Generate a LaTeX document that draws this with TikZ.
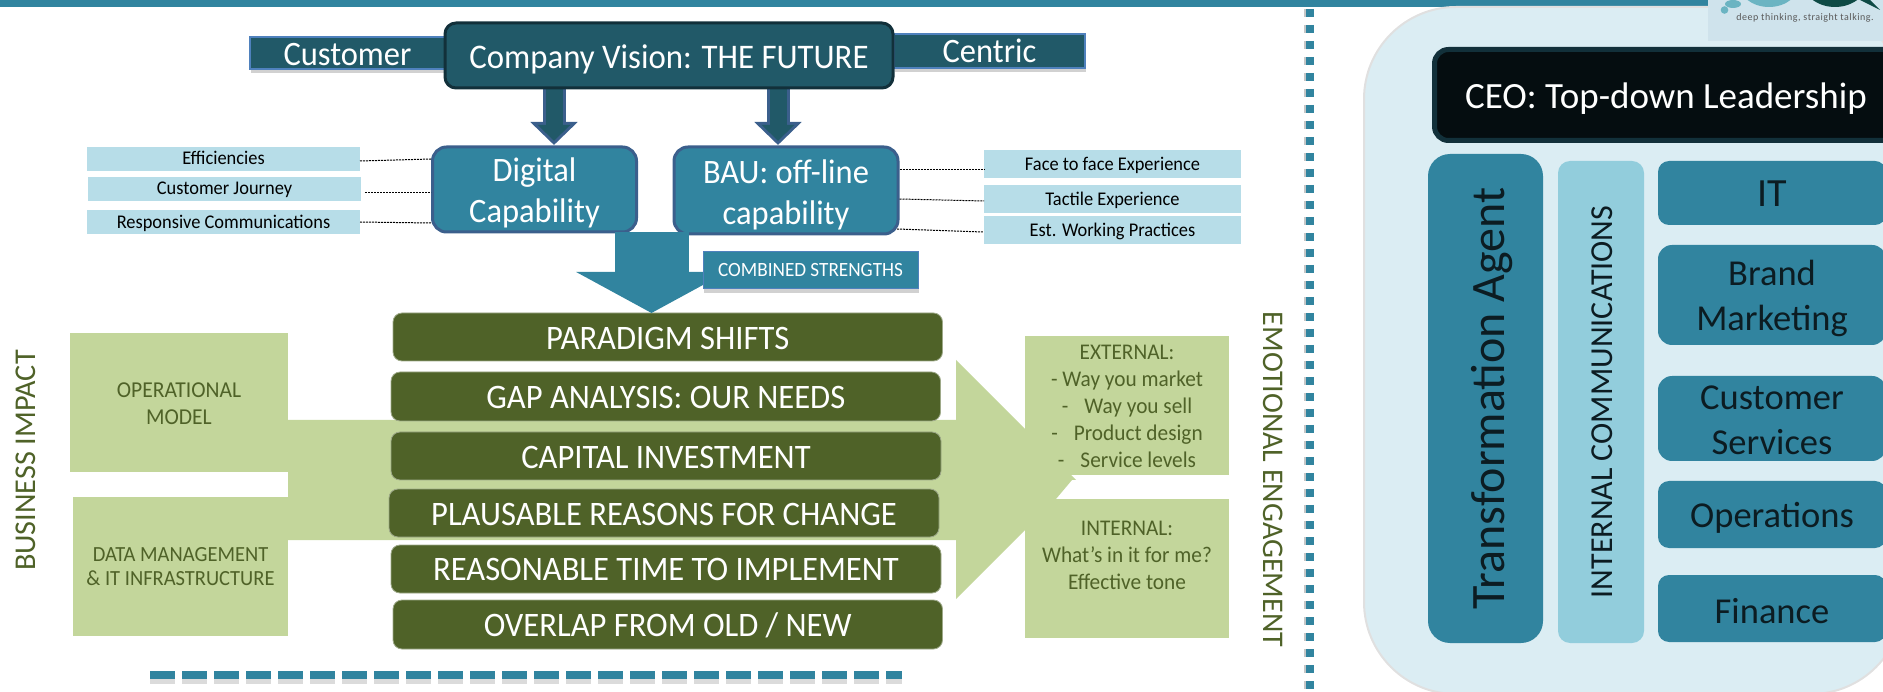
\documentclass[tikz,border=0pt]{standalone}
\usepackage{fontspec}
\setmainfont{Carlito}
\newfontfamily\tallface{Carlito}[FakeStretch=0.95]
\usetikzlibrary{arrows.meta,shadows,calc}
\definecolor{teal}{HTML}{31849F}
\definecolor{deepteal}{HTML}{215968}
\definecolor{darkedge}{HTML}{12303A}
\definecolor{blueedge}{HTML}{3B5F8C}
\definecolor{lineblue}{HTML}{4F81BD}
\definecolor{pale}{HTML}{B7DDE8}
\definecolor{panel}{HTML}{DBEDF3}
\definecolor{midblue}{HTML}{92CDDC}
\definecolor{olive}{HTML}{4F6228}
\definecolor{sage}{HTML}{C3D69B}
\definecolor{ink}{HTML}{0C1C22}
\definecolor{logoback}{HTML}{CFE3EC}
\definecolor{logolight}{HTML}{6BB4C2}
\definecolor{logodark}{HTML}{0E4A45}
% plain size
\newcommand{\fsz}[2]{\fontsize{#1}{#2}\selectfont}
% taller, narrower face for the left part of the slide
\newcommand{\ftl}[2]{\tallface\pgfmathsetmacro{\tallsize}{#1*1.0526}\fontsize{\tallsize}{#2}\selectfont}
% centred lines, moved down from the centre of their box by #1
\newcommand{\dn}[2]{\raisebox{\dimexpr-#1-.28em\relax}[0pt][0pt]{\begin{tabular}{@{}c@{}}#2\end{tabular}}}
\tikzset{
  softshadow/.style={general shadow={fill=black,opacity=.18,shadow xshift=1pt,shadow yshift=-4pt}},
  base/.style={inner sep=0pt,outer sep=0pt,align=center,text=white},
  sidetab/.style={base,fill=deepteal,draw=lineblue,line width=1.2pt,softshadow,font=\ftl{32.5}{40}},
  vision/.style={base,fill=deepteal,draw=darkedge,line width=3pt,rounded corners=11pt,font=\ftl{32.8}{40}},
  capab/.style={base,fill=teal,draw=blueedge,line width=3pt,rounded corners=14pt,font=\ftl{32.5}{41}},
  palebox/.style={base,fill=pale,text=black,font=\ftl{18.4}{22}},
  link/.style={draw=black,line width=1pt,dash pattern=on 2pt off 1pt},
  rowbox/.style={base,fill=olive,draw=olive!55!white,line width=.8pt,rounded corners=9pt,font=\ftl{32.6}{40}},
  sagebox/.style={base,fill=sage,text=olive},
  sidelabel/.style={base,text=olive},
  agentbox/.style={base,fill=teal,text=ink,rounded corners=#1},
  blockout/.style={line width=23pt,draw=blueedge,-{Triangle[length=23pt,width=46pt]}},
  blockin/.style={line width=17pt,draw=deepteal,-{Triangle[length=16pt,width=32pt]}},
  bigblock/.style={line width=74pt,draw=teal,-{Triangle[length=41pt,width=149pt]}},
  dashbar/.style={draw=teal,line width=8pt},
}
\begin{document}
\begin{tikzpicture}[x=1pt,y=-1pt]
\useasboundingbox (0,0) rectangle (1883,692);
% top bar
\fill[teal] (0,0) rectangle (1708,7);

% right panel
\node[base,minimum width=539pt,minimum height=687pt,fill=panel,draw=black!12,line width=2pt,rounded corners=92pt] (panelbox) at (1633.5,350.5) {};

% logo
\fill[logoback] (1708,0) rectangle (1883,41);
\begin{scope}
\clip (1708,0) rectangle (1883,41);
\fill[logolight] (1769,-18) ellipse (31pt and 25pt);
\fill[logodark] (1835,-20) ellipse (33pt and 27pt);
\fill[logodark] (1860,0) -- (1880,10) -- (1866,-4) -- cycle;
\fill[logolight] (1733,4) ellipse (8pt and 4pt);
\fill[logolight] (1724.5,10) circle (3.8pt);
\end{scope}
\node[base,text=black!65,font=\fsz{10}{12}\addfontfeatures{LetterSpace=5}] (tagline) at (1805,17.5) {deep thinking, straight talking.};

% dashed separators
\coordinate (vtop) at (1309.5,9);
\coordinate (vbot) at (1309.5,692);
\coordinate (hleft) at (150,675);
\coordinate (hright) at (902,675);
\draw[draw=black!22,line width=8pt,dash pattern=on 8pt off 8pt] ([xshift=-1.8pt]vtop) -- ([xshift=-1.8pt]vbot);
\draw[dashbar,dash pattern=on 8pt off 8pt] (vtop) -- (vbot);
\draw[draw=black!14,line width=8pt,dash pattern=on 25pt off 7pt] ([yshift=-5pt]hleft) -- ([yshift=-5pt]hright);
\draw[dashbar,dash pattern=on 25pt off 7pt] (hleft) -- (hright);

% vision row
\node[sidetab,minimum width=195pt,minimum height=32pt] (customer) at (347.5,53) {\dn{1pt}{Customer}};
\node[sidetab,minimum width=191pt,minimum height=34pt] (centric) at (989.5,51) {\dn{0pt}{Centric}};
\coordinate (a1) at (554,89);
\coordinate (a2) at (778,89);
\coordinate (a1t) at (554,145);
\coordinate (a2t) at (778,145);
\draw[blockout] (a1) -- (a1t);
\draw[blockin] (a1) -- ([yshift=4.2pt]a1t);
\draw[blockout] (a2) -- (a2t);
\draw[blockin] (a2) -- ([yshift=4.2pt]a2t);
\node[vision,minimum width=448pt,minimum height=65pt] (visionbox) at (669,55.5) {\dn{2pt}{Company Vision: THE FUTURE}};

% capability boxes
\node[capab,minimum width=204pt,minimum height=85pt] (digital) at (534.5,189.5) {\dn{1pt}{Digital\\Capability}};
\node[capab,minimum width=224pt,minimum height=87pt] (bau) at (786,190.5) {\dn{1.5pt}{BAU: off-line\\capability}};

% pale labels
\node[palebox,minimum width=273pt,minimum height=24pt] (eff) at (223.5,159) {\dn{1pt}{Efficiencies}};
\node[palebox,minimum width=273pt,minimum height=24pt] (journey) at (224.5,189) {\dn{1pt}{Customer Journey}};
\node[palebox,minimum width=273pt,minimum height=24pt] (resp) at (223.5,222) {\dn{2pt}{Responsive Communications}};
\node[palebox,minimum width=257pt,minimum height=28pt] (face) at (1112.5,164) {\dn{1.5pt}{Face to face Experience}};
\node[palebox,minimum width=257pt,minimum height=28pt] (tactile) at (1112.5,199) {\dn{1.5pt}{Tactile Experience}};
\node[palebox,minimum width=257pt,minimum height=28pt] (est) at (1112.5,230) {\dn{1.5pt}{Est. Working Practices}};

\draw[link] ([yshift=-2pt]eff.east) -- ([xshift=-1.5pt,yshift=30.5pt]digital.west);
\draw[link] ([xshift=4pt,yshift=-4pt]journey.east) -- ([xshift=-1.5pt,yshift=-3.5pt]digital.west);
\draw[link] (resp.east) -- ([xshift=-1.5pt,yshift=-33.5pt]digital.west);
\draw[link] ([xshift=1.5pt,yshift=20.5pt]bau.east) -- ([yshift=-6pt]face.west);
\draw[link] ([xshift=1.5pt,yshift=-8.5pt]bau.east) -- ([yshift=-2pt]tactile.west);
\draw[link] ([xshift=-1pt,yshift=-38.5pt]bau.east) -- ([xshift=-1pt,yshift=-2pt]est.west);

% big green panels and arrow
\node[sagebox,minimum width=218pt,minimum height=139pt,font=\ftl{21.6}{27}] (opmodel) at (179,402.5) {\dn{1.5pt}{OPERATIONAL\\MODEL}};
\node[sagebox,minimum width=215pt,minimum height=139pt,font=\ftl{20.5}{24}] (datamgmt) at (180.5,566.5) {\dn{1.5pt}{DATA MANAGEMENT\\\& IT INFRASTRUCTURE}};
\fill[sage] (288,420) -- (956,420) -- (956,360) -- (1076,480) -- (1072,480) -- (1056,499) -- (1025,530) -- (956,599) -- (956,540) -- (288,540) -- cycle;
\node[sagebox,minimum width=204pt,minimum height=139pt,font=\ftl{21.3}{27}] (external) at (1127,405.5) {\dn{1.5pt}{EXTERNAL:\\- Way you market\\-\hspace{16pt}Way you sell\\-\hspace{16pt}Product design\\-\hspace{16pt}Service levels}};
\node[sagebox,minimum width=204pt,minimum height=139pt,font=\ftl{21.3}{27}] (internal) at (1127,568.5) {\dn{-12pt}{INTERNAL:\\What’s in it for me?\\Effective tone}};

% rows
\node[rowbox,minimum width=549.5pt,minimum height=48pt] (paradigm) at (667.75,337) {\dn{1pt}{PARADIGM SHIFTS}};
\node[rowbox,minimum width=549.5pt,minimum height=49pt] (gap) at (665.8,396.5) {\dn{.5pt}{GAP ANALYSIS: OUR NEEDS}};
\node[rowbox,minimum width=550pt,minimum height=48pt] (capital) at (666,456) {\dn{1pt}{CAPITAL INVESTMENT}};
\node[rowbox,minimum width=550pt,minimum height=48pt] (plausible) at (664,513) {\dn{1pt}{PLAUSABLE REASONS FOR CHANGE}};
\node[rowbox,minimum width=550pt,minimum height=48pt] (reasonable) at (666,569) {\dn{0pt}{REASONABLE TIME TO IMPLEMENT}};
\node[rowbox,minimum width=549.5pt,minimum height=49pt] (overlap) at (667.75,624.5) {\dn{.5pt}{OVERLAP FROM OLD / NEW}};

% big arrow
\coordinate (bigs) at (651.5,232);
\draw[bigblock] (bigs) -- (bigs |- paradigm.north);
\node[base,fill=teal,draw=lineblue,line width=1pt,softshadow,minimum width=215pt,minimum height=37pt,font=\ftl{19.2}{23}] (combined) at (810.5,270.5) {\dn{.5pt}{COMBINED STRENGTHS}};

% side labels
\node[sidelabel,rotate=90,font=\fsz{30.2}{32}] (bizimpact) at (26,460.5) {BUSINESS IMPACT};
\node[sidelabel,rotate=-90,font=\fsz{30}{32}] (emotional) at (1273,479.5) {EMOTIONAL ENGAGEMENT};

% org panel
\node[base,fill=black!90!teal,draw=darkedge,line width=5pt,rounded corners=14pt,minimum width=463pt,minimum height=91pt,font=\fsz{37}{44}] (ceo) at (1666,95) {\dn{1pt}{CEO: Top-down Leadership}};
\node[agentbox=22pt,rotate=90,minimum width=489pt,minimum height=115pt,font=\fsz{48}{50}] (agent) at (1485.5,398.5) {\dn{1.5pt}{Transformation Agent}};
\node[agentbox=12pt,fill=midblue,rotate=90,minimum width=482pt,minimum height=86pt,font=\fsz{32}{38}] (comms) at (1601,402) {\dn{1pt}{INTERNAL COMMUNICATIONS}};
\node[agentbox=11pt,minimum width=228pt,minimum height=64pt,font=\fsz{40}{44}] (it) at (1772,193) {\dn{0pt}{IT}};
\node[agentbox=14pt,minimum width=228pt,minimum height=100pt,font=\fsz{36.5}{45}] (brand) at (1772,295) {\dn{.5pt}{Brand\\Marketing}};
\node[agentbox=14pt,minimum width=228pt,minimum height=85pt,font=\fsz{36.5}{45}] (custserv) at (1772,418.5) {\dn{1pt}{Customer\\Services}};
\node[agentbox=11pt,minimum width=228pt,minimum height=67pt,font=\fsz{36.5}{45}] (ops) at (1772,514.5) {\dn{.5pt}{Operations}};
\node[agentbox=11pt,minimum width=228pt,minimum height=67pt,font=\fsz{36.5}{45}] (finance) at (1772,608.5) {\dn{1.5pt}{Finance}};
\end{tikzpicture}
\end{document}
